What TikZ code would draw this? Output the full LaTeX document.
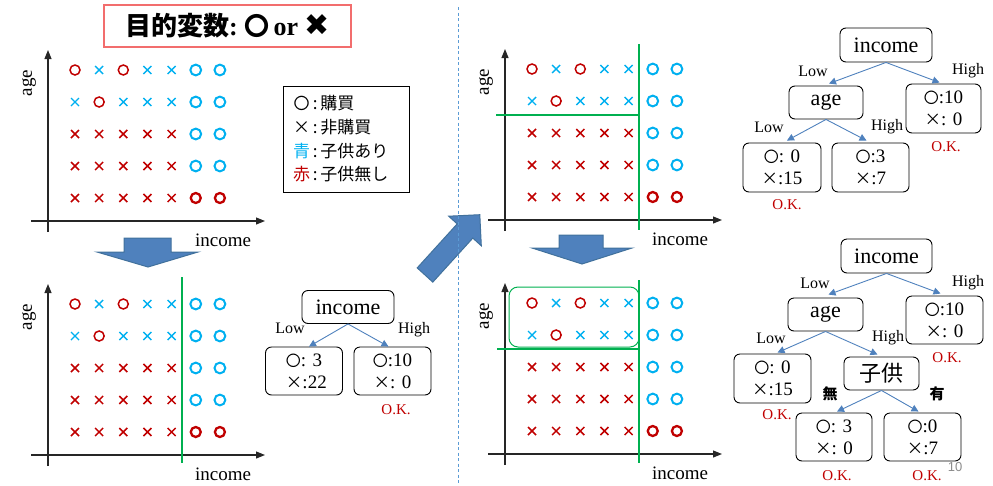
\documentclass[tikz,border=0pt]{standalone}
\usepackage{fontspec}
\setmainfont{Liberation Serif}
\setsansfont{Liberation Sans}
\newfontfamily\jp{Noto Sans CJK JP}
\newfontfamily\dejavu{DejaVu Sans}
\usetikzlibrary{arrows.meta,calc}
\definecolor{redc}{HTML}{C00000}
\definecolor{bluec}{HTML}{00B0F0}
\definecolor{greenc}{HTML}{00B050}
\definecolor{arrowc}{HTML}{4F81BD}
\definecolor{arrowd}{HTML}{41719C}
\definecolor{dividerc}{HTML}{5B9BD5}
\definecolor{titlec}{HTML}{F26D6D}
\newcommand\symO{{\jp\fontsize{15}{15}\selectfont 〇}}
\newcommand\symX{{\jp\fontsize{16.5}{15}\selectfont ×}}
\newcommand\mkro[2]{\draw[redc,line width=1.5pt] (#1,#2) circle[radius=5pt];}
\newcommand\mkRO[2]{\draw[redc,line width=2.3pt] (#1,#2) circle[radius=5pt];}
\newcommand\mkbo[2]{\draw[bluec,line width=2pt] (#1,#2) circle[radius=5.4pt];}
\newcommand\mkrx[2]{\draw[redc,line width=1.5pt] (#1,#2) +(-4,-4) -- +(4,4) +(-4,4) -- +(4,-4);}
\newcommand\mkbx[2]{\draw[bluec,line width=1.4pt] (#1,#2) +(-4,-4) -- +(4,4) +(-4,4) -- +(4,-4);}
\newcommand\scatterpanel[3]{%
\begin{scope}[shift={(#1,#2)}]
 \draw[axisline] (48,232) -- (48,50);
 \draw[axisline] (31,221) -- (265,221);
 \node[axlabel, rotate=90] (age#3) at (29,83) {age};
 \node[axlabel] (inc#3) at (223,240) {income};
 \foreach \row [count=\j from 0] in {{ro,bx,ro,bx,bx,bo,bo},{bx,ro,bx,bx,bx,bo,bo},{rx,rx,rx,rx,rx,bo,bo},{rx,rx,rx,rx,rx,bo,bo},{rx,rx,rx,rx,rx,RO,RO}} {
   \foreach \t [count=\i from 0] in \row {
     \pgfmathsetmacro\xx{75+24.15*\i}
     \pgfmathsetmacro\yy{70+32*\j}
     \csname mk\t\endcsname{\xx}{\yy}
   }
 }
\end{scope}}
\tikzset{
 axisline/.style={draw=black!85, line width=1.1pt, -{Triangle[length=9pt,width=7pt]}},
 axlabel/.style={font=\fontsize{19}{21}\selectfont},
 gline/.style={draw=greenc, line width=2.6pt},
 tbox/.style={draw, rounded corners=6pt, fill=white, line width=0.9pt, inner sep=0pt},
 leaf/.style={tbox, minimum width=77pt, minimum height=48pt, font=\fontsize{19}{22}\selectfont, align=center},
 hdr/.style={tbox, minimum height=33pt, font=\fontsize{22}{24}\selectfont},
 edgelab/.style={font=\fontsize{16}{18}\selectfont},
 oklab/.style={font=\fontsize{15}{16}\selectfont, text=redc},
 cjklab/.style={font=\jp\bfseries\fontsize{15}{16}\selectfont},
 tarrow/.style={draw=arrowc, line width=0.9pt, -{Triangle[length=7pt,width=7pt]}},
 bigarrow/.style={fill=arrowc, draw=arrowd, line width=1pt, line join=miter},
}
\begin{document}
\begin{tikzpicture}[x=1pt,y=-1pt]
\useasboundingbox (0,0) rectangle (993,485);
% title
\node[draw=titlec, line width=1.3pt, minimum width=247pt, minimum height=42pt, inner sep=0pt] (title) at (227.5,26)
 {\fontsize{26}{30}\selectfont{\jp\bfseries 目的変数}{\bfseries :}\ {\jp\bfseries\fontsize{25}{30}\selectfont 〇}\,{\bfseries or}\ {\dejavu\fontsize{30}{30}\selectfont ✖}};
% legend
\node[draw, line width=0.9pt, text width=106pt, inner xsep=10pt, inner ysep=0pt, minimum height=106pt, align=left,
 font=\jp\fontsize{17}{23.7}\selectfont] (legend) at (346,139)
 {\makebox[17pt][c]{\fontsize{16}{16}\selectfont 〇}\,:\,購買\\\makebox[17pt][c]{\fontsize{17}{16}\selectfont ×}\,:\,非購買\\{\color{bluec}青}\,:\,子供あり\\{\color{redc}赤}\,:\,子供無し};
% panels
\scatterpanel{0}{0}{A}
\scatterpanel{0}{234}{B}
\scatterpanel{457}{-1}{C}
\scatterpanel{457}{233}{D}
% green split lines
\draw[gline] (182,277) -- (182,463);
\draw[gline] (639,44) -- (639,230);
\draw[gline] (496,115) -- (639,115);
\draw[gline] (639,280) -- (639,463);
\draw[gline] (497,349) -- (639,349);
\draw[draw=greenc, line width=1pt, rounded corners=9pt] (509,287) rectangle (639,347);
% big arrows
\draw[bigarrow] (124,238) -- (171,238) -- (171,252) -- (198,252) -- (148,267) -- (97,252) -- (124,252) -- cycle;
\draw[bigarrow] (559,235) -- (603,235) -- (603,248) -- (632,248) -- (582,264) -- (532,248) -- (559,248) -- cycle;
\draw[bigarrow] (417.2,267.9) -- (457.2,223.9) -- (448.7,216.2) -- (479.8,214.7) -- (481.3,245.8) -- (472.8,238.1) -- (432.8,282.1) -- cycle;
% divider
\draw[dividerc, line width=0.9pt, dash pattern=on 3pt off 2.5pt] (458,7) -- (458,485);
% tree bottom-left
\node[hdr, minimum width=92pt] (t1) at (348,307) {income};
\node[leaf] (t1a) at (304,371) {\symO: 3\\\ \symX :22};
\node[leaf] (t1b) at (392.5,371) {\symO:10\\\symX : 0};
\draw[tarrow] (t1.south) -- ([xshift=5pt]t1a.north);
\draw[tarrow] (t1.south) -- ([xshift=-4pt]t1b.north);
\node[edgelab] (t1lo) at (290,328) {Low};
\node[edgelab] (t1hi) at (414,330) {High};
\node[oklab] (t1ok) at (396,410) {O.K.};
% tree top-right
\node[hdr, minimum width=92pt, minimum height=34pt] (t2) at (886,45) {income};
\node[hdr, minimum width=74pt] (t2age) at (826,102.5) {age};
\node[leaf, minimum width=75pt, minimum height=49pt] (t2r) at (943.5,108.5) {\symO:10\\\symX : 0};
\node[leaf, minimum width=78pt, minimum height=49pt] (t2ll) at (782,167.5) {\symO: 0\\\symX :15};
\node[leaf, minimum width=77pt, minimum height=49pt] (t2lh) at (870.5,167.5) {\symO:3\\\symX :7};
\draw[tarrow] (t2.south) -- ([xshift=3pt,yshift=2pt]t2age.north);
\draw[tarrow] (t2.south) -- ([xshift=-4pt,yshift=1pt]t2r.north);
\draw[tarrow] (t2age.south) -- ([xshift=5pt,yshift=2pt]t2ll.north);
\draw[tarrow] (t2age.south) -- ([xshift=-4pt,yshift=2pt]t2lh.north);
\node[edgelab] (t2lo) at (813,71) {Low};
\node[edgelab] (t2hi) at (968,71) {High};
\node[edgelab] (t2alo) at (769,127) {Low};
\node[edgelab] (t2ahi) at (887,127) {High};
\node[oklab] (t2ok1) at (946,147) {O.K.};
\node[oklab] (t2ok2) at (787,205) {O.K.};
% tree bottom-right
\node[hdr, minimum width=91pt, minimum height=34pt] (t3) at (886.5,256) {income};
\node[hdr, minimum width=75pt] (t3age) at (825.5,314.5) {age};
\node[leaf] (t3r) at (944.5,320) {\symO:10\\\symX : 0};
\node[leaf, minimum height=49pt] (t3ll) at (772.5,378.5) {\symO: 0\\\symX :15};
\node[hdr, minimum width=75pt, font=\jp\fontsize{22}{24}\selectfont] (t3k) at (881.5,373.5) {子供};
\node[leaf, minimum width=76pt] (t3n) at (834,437) {\symO: 3\\\symX : 0};
\node[leaf] (t3y) at (922.5,437) {\symO:0\\\symX :7};
\draw[tarrow] (t3.south) -- ([xshift=3pt,yshift=3pt]t3age.north);
\draw[tarrow] (t3.south) -- ([xshift=-4pt,yshift=2pt]t3r.north);
\draw[tarrow] (t3age.south) -- ([xshift=5pt,yshift=1pt]t3ll.north);
\draw[tarrow] (t3age.south) -- ([xshift=-4pt,yshift=2pt]t3k.north);
\draw[tarrow] (t3k.south) -- ([xshift=3pt,yshift=1pt]t3n.north);
\draw[tarrow] (t3k.south) -- ([xshift=-4pt,yshift=1pt]t3y.north);
\node[edgelab] (t3lo) at (815,283) {Low};
\node[edgelab] (t3hi) at (968,283) {High};
\node[edgelab] (t3alo) at (771,338) {Low};
\node[edgelab] (t3ahi) at (888,338) {High};
\node[cjklab] (t3nl) at (830,394) {無};
\node[cjklab] (t3yl) at (937,394) {有};
\node[oklab] (t3ok1) at (947,358) {O.K.};
\node[oklab] (t3ok2) at (777,415) {O.K.};
\node[oklab] (t3ok3) at (837,476) {O.K.};
\node[oklab] (t3ok4) at (927,476) {O.K.};
\node[font=\sffamily\fontsize{13}{13}\selectfont, text=black!45] (pagenum) at (955,467) {10};
\end{tikzpicture}
\end{document}
